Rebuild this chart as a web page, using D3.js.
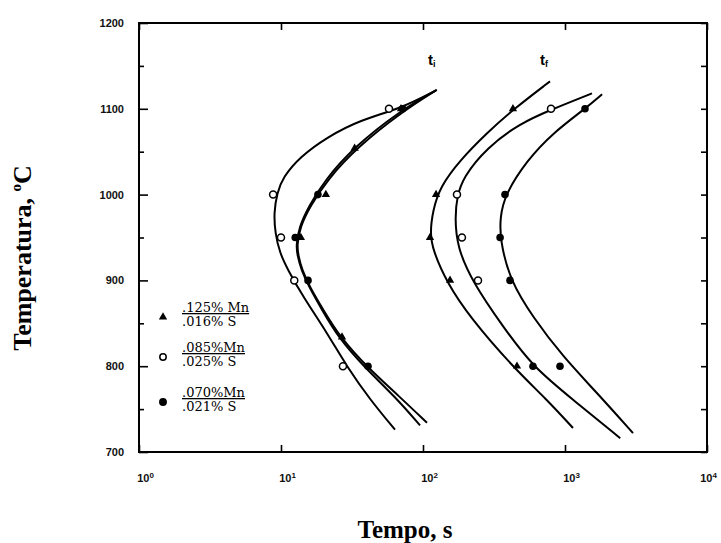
<!DOCTYPE html>
<html>
<head>
<meta charset="utf-8">
<script src="https://cdn.jsdelivr.net/npm/d3@7"></script>
<style>
  body { margin: 0; background: #fff; }
</style>
</head>
<body>
<div id="chart"></div>
<script>
// curves, [time s, temperature C]
var tiOpenCurve = [[125,1122],[69,1100],[36,1087],[21.1,1067],[13.6,1044],[10.3,1020],[9.4,1002],[8.9,979],[9.1,955],[9.8,932],[11.2,912],[14.3,881],[21.1,839],[29.2,799],[42.4,761],[63.5,726]];
var tiFillCurve = [[125,1122],[72,1097],[34.3,1055],[21.1,1017],[16,986],[13.6,962],[12.97,941],[13.2,930],[14.06,912],[16,892],[19.8,866],[26,834],[40.3,799],[68.9,764],[106.7,734]];
var tiTriCurve = [[122,1121],[68,1097],[32.5,1055],[20.4,1017],[15.6,986],[13.4,962],[12.8,941],[13.0,930],[13.9,912],[15.8,892],[19.4,866],[25.2,834],[38.5,799],[64,764],[95.3,731]];
var tfTriCurve = [[784,1132],[430,1099],[282.5,1072],[182,1040],[132,1009],[117.5,982],[112,955],[117.5,935],[147.7,897],[214,857],[430,799],[747,761],[1138,728]];
var tfOpenCurve = [[1549,1118],[797,1099],[482,1083],[282.5,1055],[191,1020],[173.5,997],[168,974],[173.5,939],[225,897],[366,846],[595,799],[1138,761],[2449,716]];
var tfFillCurve = [[1825,1117],[1383,1100],[823,1072],[540,1040],[378,1000],[349,974],[349,947],[410,900],[595,857],[968,811],[1680,769],[3013,722]];

// measured points
var triPoints = [[70,1100],[33,1054],[20.7,1000],[13.8,950],[26.9,834],[430,1100],[123.5,1000],[112,950],[155,900],[459,800]];
var openPoints = [[57.6,1100],[8.8,1000],[10,950],[12.4,900],[27.3,800],[797,1100],[173.5,1000],[188,950],[244,900]];
var fillPoints = [[72,1100],[18.2,1000],[12.6,950],[15.5,900],[41,800],[1383,1100],[378,1000],[349,950],[410,900],[595,800],[922,800]];

var yMajorTicks = [700, 800, 900, 1000, 1100, 1200];
var yMinorTicks = [750, 850, 950, 1050, 1150];
var xTicks = [1, 10, 100, 1000, 10000];
var legendMn = [".125% Mn", ".085%Mn", ".070%Mn"];
var legendS = [".016% S", ".025% S", ".021% S"];
var legendSymbols = ["tri", "open", "fill"];

var width = 721, height = 543;
var plotLeft = 139, plotRight = 707, plotTop = 23, plotBottom = 452;

var svg = d3.select("#chart")
    .append("svg")
    .attr("width", width)
    .attr("height", height)
    .style("background", "#fff");

var x = d3.scaleLog().domain([1, 10000]).range([plotLeft, plotRight]);
var y = d3.scaleLinear().domain([700, 1200]).range([plotBottom, plotTop]);

// axes, ticks point inward
var tickFont = "bold 11px 'Liberation Sans', Arial, sans-serif";

var gLeft = svg.append("g").attr("transform", "translate(" + plotLeft + ",0)")
    .call(d3.axisLeft(y).tickValues(yMajorTicks).tickFormat(d3.format("d")).tickSize(-9).tickSizeOuter(0).tickPadding(15));
var gLeftMinor = svg.append("g").attr("transform", "translate(" + plotLeft + ",0)")
    .call(d3.axisLeft(y).tickValues(yMinorTicks).tickSize(-5).tickSizeOuter(0).tickFormat(""));
var gRight = svg.append("g").attr("transform", "translate(" + plotRight + ",0)")
    .call(d3.axisRight(y).tickValues(yMajorTicks.concat(yMinorTicks)).tickSize(-6).tickSizeOuter(0).tickFormat(""));
var gBottom = svg.append("g").attr("transform", "translate(0," + plotBottom + ")")
    .call(d3.axisBottom(x).tickValues(xTicks).tickSize(-7).tickSizeOuter(0).tickPadding(22));
var gTop = svg.append("g").attr("transform", "translate(0," + plotTop + ")")
    .call(d3.axisTop(x).tickValues(xTicks).tickSize(-7).tickSizeOuter(0).tickFormat(""));

[gLeft, gLeftMinor, gRight, gBottom, gTop].forEach(function(g) {
    g.select(".domain").remove();
    g.selectAll(".tick line").attr("stroke", "#000").attr("stroke-width", 1.6);
    g.selectAll(".tick text").style("font", tickFont).attr("fill", "#111");
});

// powers of ten
gBottom.selectAll(".tick text")
    .attr("dx", function(d) { return d == 10000 ? 1 : 6; })
    .text("10")
    .append("tspan")
    .attr("dy", -4)
    .style("font-size", "8px")
    .text(function(d) { return Math.round(Math.log10(d)); });

// frame
svg.append("rect")
    .attr("x", plotLeft).attr("y", plotTop)
    .attr("width", plotRight - plotLeft).attr("height", plotBottom - plotTop)
    .attr("fill", "none")
    .attr("stroke", "#000")
    .attr("stroke-width", 2);

// curves (smoothed, as drawn by hand in the original)
var line = d3.line()
    .x(function(d) { return x(d[0]); })
    .y(function(d) { return y(d[1]); })
    .curve(d3.curveBasis);

svg.selectAll(".curve")
    .data([tiOpenCurve, tiFillCurve, tiTriCurve, tfTriCurve, tfOpenCurve, tfFillCurve])
    .enter()
    .append("path")
    .attr("class", "curve")
    .attr("d", line)
    .attr("fill", "none")
    .attr("stroke", "#000")
    .attr("stroke-width", 2);

// points
var triangle = d3.symbol().type(d3.symbolTriangle).size(30);

svg.selectAll(".tri")
    .data(triPoints)
    .enter()
    .append("path")
    .attr("class", "tri")
    .attr("d", triangle)
    .attr("transform", function(d) { return "translate(" + x(d[0]) + "," + y(d[1]) + ")"; })
    .attr("fill", "#000");

svg.selectAll(".open")
    .data(openPoints)
    .enter()
    .append("circle")
    .attr("class", "open")
    .attr("cx", function(d) { return x(d[0]); })
    .attr("cy", function(d) { return y(d[1]); })
    .attr("r", 3.5)
    .attr("fill", "#fff")
    .attr("stroke", "#000")
    .attr("stroke-width", 1.5);

svg.selectAll(".fill")
    .data(fillPoints)
    .enter()
    .append("circle")
    .attr("class", "fill")
    .attr("cx", function(d) { return x(d[0]); })
    .attr("cy", function(d) { return y(d[1]); })
    .attr("r", 3.8)
    .attr("fill", "#000");

// ti / tf labels
var labelFont = "bold 15px 'Liberation Sans', Arial, sans-serif";
[["i", 428], ["f", 540]].forEach(function(l) {
    var t = svg.append("text")
        .attr("x", l[1]).attr("y", 65)
        .style("font", labelFont)
        .text("t");
    t.append("tspan")
        .attr("dy", 2)
        .style("font-size", "9px")
        .text(l[0]);
});

// legend
var legend = svg.append("g");
legendSymbols.forEach(function(s, i) {
    var cy = [317, 357, 402][i];
    if (s == "tri") {
        legend.append("path").attr("d", triangle)
            .attr("transform", "translate(163," + cy + ")").attr("fill", "#000");
    } else {
        legend.append("circle")
            .attr("cx", 163).attr("cy", cy).attr("r", 3.2)
            .attr("fill", s == "fill" ? "#000" : "#fff")
            .attr("stroke", "#000").attr("stroke-width", 1.5);
    }
    legend.append("text")
        .attr("x", 182).attr("y", cy - 5)
        .style("font", "13px 'DejaVu Serif', serif")
        .style("text-decoration", "underline")
        .text(legendMn[i]);
    legend.append("text")
        .attr("x", 182).attr("y", cy + 9)
        .style("font", "13px 'DejaVu Serif', serif")
        .text(legendS[i]);
});

// axis titles
var titleFont = "bold 26px 'Liberation Serif', 'Times New Roman', serif";
var yTitle = svg.append("text")
    .attr("transform", "translate(31,258) rotate(-90)")
    .attr("text-anchor", "middle")
    .style("font", titleFont)
    .text("Temperatura, ");
yTitle.append("tspan").attr("dy", -10).style("font-size", "15px").text("o");
yTitle.append("tspan").attr("dy", 10).text("C");

svg.append("text")
    .attr("x", 405).attr("y", 538)
    .attr("text-anchor", "middle")
    .style("font", "bold 25px 'Liberation Serif', 'Times New Roman', serif")
    .text("Tempo, s");
</script>
</body>
</html>
